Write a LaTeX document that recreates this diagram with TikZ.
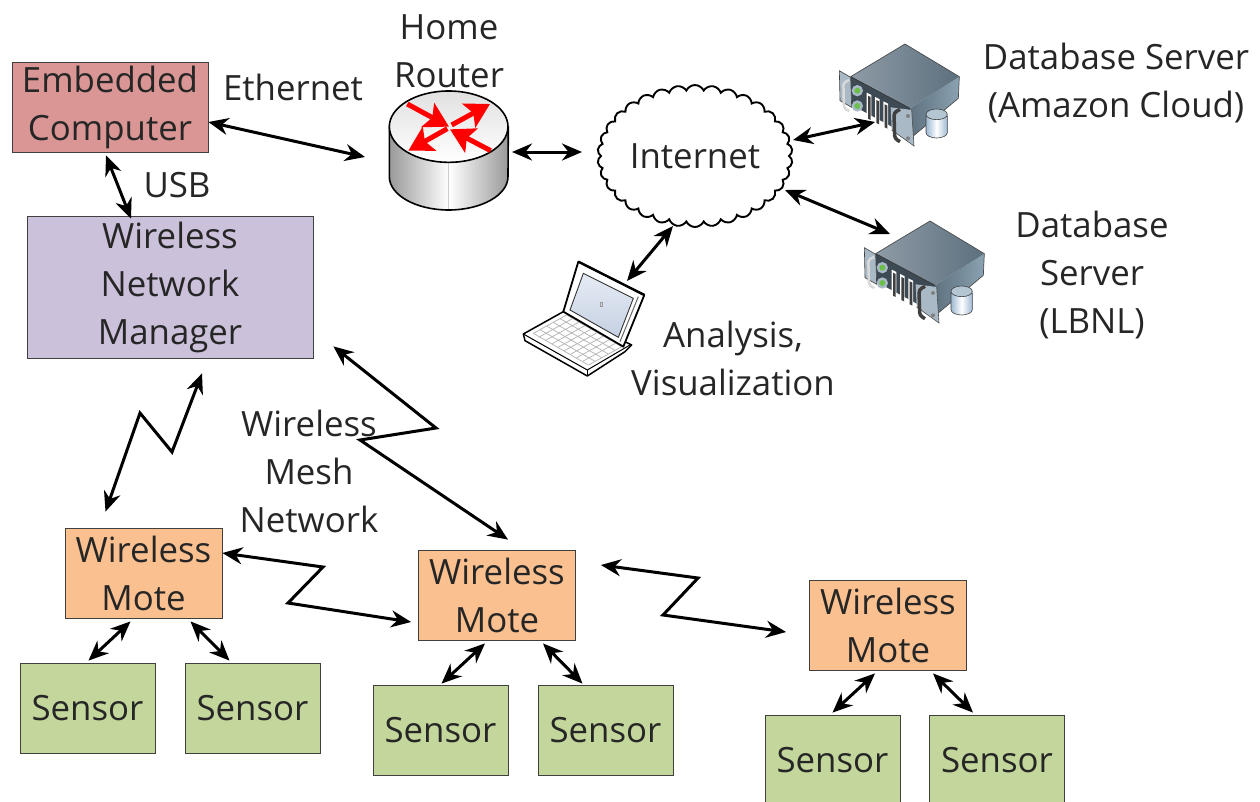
\documentclass[tikz,border=0pt]{standalone}
\usepackage{fontspec}
\setmainfont{Open Sans}
\usetikzlibrary{arrows.meta,shapes.symbols,calc}
\definecolor{txt}{HTML}{262626}
\definecolor{ecfill}{HTML}{D99694}
\definecolor{mgrfill}{HTML}{CCC1DA}
\definecolor{motefill}{HTML}{FAC090}
\definecolor{sensorfill}{HTML}{C3D69B}
\definecolor{srvtopL}{HTML}{8E9BA6}
\definecolor{srvtopR}{HTML}{5D707E}
\definecolor{srvsideL}{HTML}{5F7280}
\definecolor{srvsideR}{HTML}{8AA2B2}
\definecolor{srvfront}{HTML}{3E4A53}
\definecolor{srvear}{HTML}{A9BAC6}
\definecolor{diskedge}{HTML}{9DB8D2}
\definecolor{disktop}{HTML}{B5C6D3}
\definecolor{scrtop}{HTML}{E6ECF5}
\definecolor{scrbot}{HTML}{C5D0E2}
\definecolor{ledg}{HTML}{6CC04A}
\tikzset{
 base/.style={draw=black!75,line width=0.8pt,text=txt,align=center,inner sep=0pt,font=\fontsize{34.8}{48}\selectfont},
 ecbox/.style={base,fill=ecfill,minimum width=196pt,minimum height=90pt,execute at begin node={\vspace*{4pt}}},
 mgrbox/.style={base,fill=mgrfill,minimum width=286pt,minimum height=142pt,execute at begin node={\vspace*{4pt}}},
 motebox/.style={base,fill=motefill,minimum width=157pt,minimum height=90pt},
 sensorbox/.style={base,fill=sensorfill,minimum width=135pt,minimum height=90pt},
 lbl/.style={text=txt,align=center,inner sep=0pt,font=\fontsize{34.8}{48}\selectfont},
 arr/.style={line width=3pt,black,{Stealth[length=20pt,width=17pt]}-{Stealth[length=20pt,width=17pt]}},
 redarr/.style={line width=5pt,red,-{Stealth[length=24pt,width=27pt,inset=5pt]}},
}
\newcommand{\serverpic}[2]{%
\begin{scope}[shift={(#1,#2)},x=0.3333pt,y=-0.3333pt]
 % right face
 \shade[left color=srvsideL,right color=srvsideR] (270,235)--(418,140)--(415,205)--(275,322)--cycle;
 % top face
 \shade[left color=srvtopL,right color=srvtopR] (255,42)--(418,140)--(270,235)--(92,140)--cycle;
 \draw[black!70,line width=0.7pt] (92,140)--(255,42)--(418,140)--(415,205)--(275,322);
 % front face
 \fill[srvfront] (92,140)--(270,235)--(275,322)--(95,225)--cycle;
 \draw[black!80,line width=0.7pt] (92,140)--(270,235);
 % left ear
 \fill[srvear] (58,122)--(92,142)--(95,232)--(60,212)--cycle;
 \draw[black!75,line width=0.6pt] (58,122)--(92,142)--(95,232)--(60,212)--cycle;
 \draw[black!15,line width=2.5pt,rounded corners=2pt] (88,150)--(70,158)--(72,235)--(88,243);
 % leds
 \fill[srvear] (112,182) circle (17);
 \fill[srvear] (112,228) circle (17);
 \fill[ledg] (112,182) circle (9);
 \fill[ledg] (112,228) circle (9);
 % slots
 \foreach \sx/\sy in {140/188,165/201,190/214}{
  \fill[white] (\sx,\sy)--(\sx+14,\sy+7)--(\sx+14,\sy+93)--(\sx,\sy+86)--cycle;
  \fill[black!75] (\sx+4,\sy+9)--(\sx+12,\sy+13)--(\sx+12,\sy+82)--(\sx+4,\sy+78)--cycle;
 }
 % right ear
 \fill[srvear] (212,232)--(275,240)--(282,348)--(215,300)--cycle;
 \draw[black!70,line width=0.6pt] (275,240)--(282,348)--(215,300);
 \draw[black!75,line width=3.5pt,rounded corners=3pt] (240,238)--(222,248)--(224,325)--(240,335);
 \fill[black!50] (264,258) circle (6);
 \fill[black!50] (264,325) circle (6);
 % disk
 \shade[left color=diskedge,right color=diskedge,middle color=white,draw=black!75,line width=0.6pt]
  (318,258)--(318,308) arc[start angle=180,end angle=0,x radius=32,y radius=16]--(382,258)--cycle;
 \fill[disktop,draw=black!75,line width=0.6pt] (350,253) ellipse[x radius=32,y radius=16];
\end{scope}}
\begin{document}
\begin{tikzpicture}[x=1pt,y=-1pt]
\useasboundingbox (0,0) rectangle (1260,801);
\fill[white] (0,0) rectangle (1260,801);
% boxes
\node[ecbox] (ec) at (110,107) {Embedded\\Computer};
\node[mgrbox] (mgr) at (170,287) {Wireless\\Network\\Manager};
\node[motebox] (m1) at (143.5,573) {Wireless\\Mote};
\node[motebox] (m2) at (497,595) {Wireless\\Mote};
\node[motebox] (m3) at (888,625) {Wireless\\Mote};
\node[sensorbox] (s1) at (87.5,708) {Sensor};
\node[sensorbox] (s2) at (252.5,708) {Sensor};
\node[sensorbox] (s3) at (440.5,730) {Sensor};
\node[sensorbox] (s4) at (605.5,730) {Sensor};
\node[sensorbox] (s5) at (832.5,760) {Sensor};
\node[sensorbox] (s6) at (997,760) {Sensor};
% router
\coordinate (router) at (449,151);
\begin{scope}[shift={(370,80)},x=0.3333pt,y=-0.3333pt]
 \shade[left color=black!40,right color=black!40,middle color=white,draw=black,line width=1.6pt]
  (58,140)--(58,290) arc[start angle=180,end angle=0,x radius=178,y radius=100]--(415,140)--cycle;
 \draw[black!20,line width=0.8pt] (236,245)--(236,388);
 \shade[top color=black!12,bottom color=white,draw=black,line width=1.6pt] (236,140) ellipse[x radius=178,y radius=107];
 \draw[redarr] (112,72)--(237,140);
 \draw[redarr] (245,135)--(360,72);
 \draw[redarr] (232,146)--(115,212);
 \draw[redarr] (362,212)--(240,148);
\end{scope}
% cloud
\node[cloud,cloud puffs=34,cloud puff arc=130,aspect=1.4,draw=black,line width=1.9pt,fill=white,text=txt,
 minimum width=195pt,minimum height=142pt,inner sep=0pt,font=\fontsize{34.8}{48}\selectfont] (inet) at (695,156) {Internet};
% servers
\serverpic{820}{30}
\serverpic{845}{207}
\coordinate (srvA) at (899,92);
\coordinate (srvB) at (924,269);
% laptop
\coordinate (laptop) at (590,320);
\begin{scope}[shift={(510,250)},x=0.3333pt,y=-0.3333pt]
 \fill[white,draw=black,line width=1.5pt,line join=round] (160,185)--(40,252)--(45,272)--(232,378)--(345,305)--(365,285)--cycle;
 \draw[black,line width=1pt] (40,252)--(232,360)--(360,285);
 \draw[black,line width=1pt] (232,360)--(232,378);
 \foreach \i in {0,...,5}{\draw[black!30,line width=0.7pt] ($(70,250)+(\i*20,-\i*11)$)--($(235,345)+(\i*20,-\i*11)$);}
 \foreach \i in {0,...,9}{\draw[black!30,line width=0.7pt] ($(70,250)+(\i*18.5,\i*10.5)$)--($(170,195)+(\i*18.5,\i*10.5)$);}
 \fill[white,draw=black,line width=1.8pt,line join=round] (205,35)--(403,135)--(340,290)--(160,185)--cycle;
 \draw[black,line width=2.4pt] (205,35)--(403,135);
 \draw[black!60,line width=1pt] (385,140)--(330,275);
 \shade[top color=scrtop,bottom color=scrbot,draw=black!80,line width=0.9pt] (220,70)--(370,145)--(325,262)--(180,180)--cycle;
 \draw[black!40,line width=0.5pt] (272,158) rectangle (278,168);
\end{scope}
% labels
\node[lbl] (lhome) at (449,51) {Home\\Router};
\node[lbl] (leth) at (293,87) {Ethernet};
\node[lbl] (lusb) at (177,185) {USB};
\node[lbl] (ldb1) at (1116,83) {Database Server\\(Amazon Cloud)};
\node[lbl] (ldb2) at (1092,275) {Database\\Server\\(LBNL)};
\node[lbl] (lana) at (733,358) {Analysis,\\Visualization};
\node[lbl] (lmesh) at (309,471) {Wireless\\Mesh\\Network};
% connectors
\draw[arr] ([yshift=-15pt]ec.east) -- ([xshift=-84pt,yshift=-6pt]router);
\draw[arr] ([xshift=-4pt,yshift=-3pt]ec.south) -- ([xshift=-39pt,yshift=-3pt]mgr.north);
\draw[arr] ([xshift=63pt,yshift=-1pt]router) -- ([xshift=-113pt,yshift=4pt]inet.center);
\draw[arr] ([xshift=98pt,yshift=16pt]inet.center) -- ([xshift=-24pt,yshift=-30pt]srvA);
\draw[arr] ([xshift=90pt,yshift=-34pt]inet.center) -- ([xshift=-34pt,yshift=35pt]srvB);
\draw[arr] ([xshift=-22pt,yshift=-70pt]inet.center) -- ([xshift=37pt,yshift=39pt]laptop);
\coordinate (z1a) at (172,452); \coordinate (z1b) at (140,413);
\draw[arr] ([xshift=32pt,yshift=-15pt]mgr.south) -- (z1a) -- (z1b) -- ([xshift=-38pt,yshift=16pt]m1.north);
\coordinate (z2a) at (436,428); \coordinate (z2b) at (360,440);
\draw[arr] ([xshift=20pt,yshift=12pt]mgr.south east) -- (z2a) -- (z2b) -- ([xshift=11pt,yshift=10pt]m2.north);
\coordinate (z3a) at (323,567); \coordinate (z3b) at (288,603);
\draw[arr] ([yshift=20pt]m1.east) -- (z3a) -- (z3b) -- ([xshift=-7pt,yshift=-27pt]m2.west);
\coordinate (z4a) at (698,578); \coordinate (z4b) at (663,615);
\draw[arr] ([xshift=25pt,yshift=30pt]m2.east) -- (z4a) -- (z4b) -- ([xshift=-23pt,yshift=-7pt]m3.west);
\draw[arr] ([xshift=-13pt,yshift=-3pt]m1.south) -- ([xshift=1pt,yshift=2pt]s1.north);
\draw[arr] ([xshift=47pt,yshift=-3pt]m1.south) -- ([xshift=-23pt,yshift=2pt]s2.north);
\draw[arr] ([xshift=-12pt,yshift=-3pt]m2.south) -- ([xshift=1pt,yshift=1pt]s3.north);
\draw[arr] ([xshift=46pt,yshift=-3pt]m2.south) -- ([xshift=-23pt,yshift=1pt]s4.north);
\draw[arr] ([xshift=-13pt,yshift=-3pt]m3.south) -- ([xshift=0pt,yshift=2pt]s5.north);
\draw[arr] ([xshift=45pt,yshift=-3pt]m3.south) -- ([xshift=-24pt,yshift=2pt]s6.north);
\end{tikzpicture}
\end{document}
